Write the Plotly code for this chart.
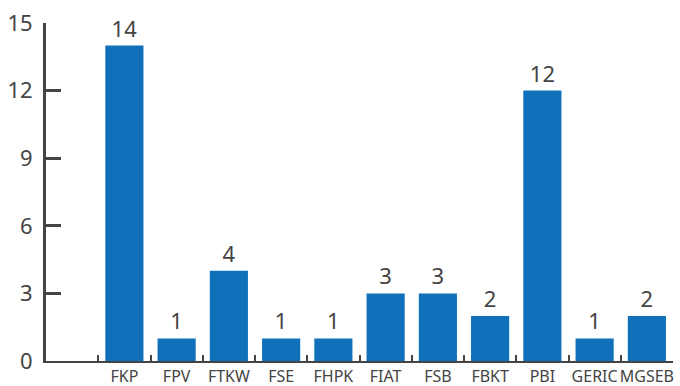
import plotly.graph_objects as go

categories = ["", "FKP", "FPV", "FTKW", "FSE", "FHPK", "FIAT", "FSB", "FBKT", "PBI", "GERIC", "MGSEB"]
values = [None, 14, 1, 4, 1, 1, 3, 3, 2, 12, 1, 2]
labels = ["" if v is None else str(v) for v in values]
y_ticks = [0, 3, 6, 9, 12, 15]

fig = go.Figure(go.Bar(
    x=categories, y=values, text=labels, textposition="outside",
    marker=dict(color="#1071BA", line=dict(width=0)),
    textfont=dict(size=22, color="#444444"),
    cliponaxis=False,
))

fig.update_layout(
    width=680, height=386,
    margin=dict(l=46, r=7, t=23, b=25),
    paper_bgcolor="white", plot_bgcolor="white",
    bargap=0.27,
    showlegend=False,
    font=dict(family="Noto Sans", color="#444444"),
)
fig.update_yaxes(
    range=[0, 15], tickvals=y_ticks, showgrid=False, zeroline=False,
    showline=True, linecolor="#444444", linewidth=3,
    ticks="inside", ticklen=15, tickwidth=3, tickcolor="#444444",
    tickfont=dict(size=22, color="#444444"), ticklabelstandoff=6,
    automargin=False,
)
fig.update_xaxes(
    type="category", categoryorder="array", categoryarray=categories,
    showgrid=False, showline=True, linecolor="#444444", linewidth=2,
    ticks="inside", ticklen=6, tickwidth=2, tickcolor="#444444", tickson="boundaries",
    tickfont=dict(size=16, color="#444444", family="Noto Sans"), tickangle=0,
    ticklabelstandoff=0, automargin=False,
)

fig.write_html("out.html", config={"displayModeBar": False},
               post_script="document.body.style.margin='0';")
